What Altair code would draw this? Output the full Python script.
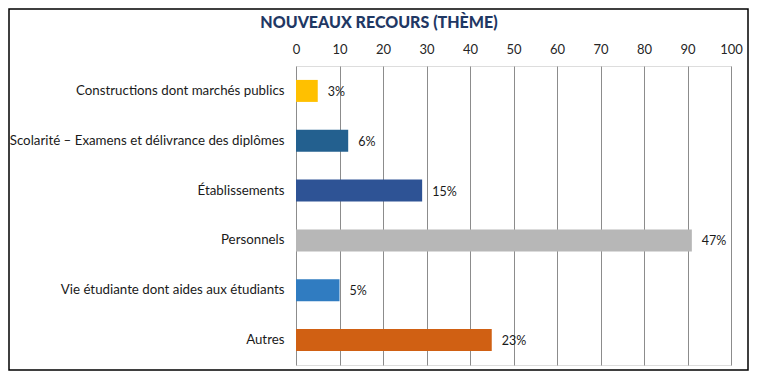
import altair as alt
import pandas as pd

categories = [
    "Constructions dont marchés publics",
    "Scolarité – Examens et délivrance des diplômes",
    "Établissements",
    "Personnels",
    "Vie étudiante dont aides aux étudiants",
    "Autres",
]
counts = [5, 12, 29, 91, 10, 45]
pct_labels = ["3%", "6%", "15%", "47%", "5%", "23%"]
colors = ["#FFC000", "#23608F", "#2E5395", "#B7B7B7", "#307CC1", "#D06013"]
x_ticks = [0, 10, 20, 30, 40, 50, 60, 70, 80, 90, 100]
title_text = "NOUVEAUX RECOURS (THÈME)"

df = pd.DataFrame({"cat": categories, "n": counts, "lab": pct_labels, "col": colors})

FONT = "Lato"

y_enc = alt.Y(
    "cat:N",
    sort=categories,
    scale=alt.Scale(paddingInner=0.55, paddingOuter=0.275),
    axis=alt.Axis(
        title=None, domain=False, ticks=False, labelPadding=12,
        labelFont=FONT, labelFontSize=13.3, labelColor="#1a1a1a", labelLimit=300,
    ),
)
x_enc = alt.X(
    "n:Q",
    scale=alt.Scale(domain=[0, 100], nice=False),
    axis=alt.Axis(
        orient="top", title=None, values=x_ticks, domain=False, ticks=False,
        grid=True, gridColor="#8c8c8c", gridWidth=1, labelPadding=10, labelFlush=False,
        labelFont=FONT, labelFontSize=13, labelColor="#262626",
    ),
)

base = alt.Chart(df)

bars = base.mark_bar(size=22).encode(
    x=x_enc,
    y=y_enc,
    color=alt.Color("col:N", scale=None),
)

labels = base.mark_text(align="left", baseline="middle", dx=10, dy=1, font=FONT, fontSize=12.5, color="#1a1a1a").encode(
    x="n:Q", y=alt.Y("cat:N", sort=categories), text="lab:N"
)

title = alt.Chart(pd.DataFrame({"t": [title_text]})).mark_text(
    font=FONT, fontSize=16, fontWeight=900, color="#1F3864", align="center", baseline="middle"
).encode(x=alt.value(83), y=alt.value(-43), text="t:N")

border = alt.Chart(pd.DataFrame({"a": [0]})).mark_rect(
    fill=None, stroke="#000000", strokeWidth=1.5
).encode(x=alt.value(-287), x2=alt.value(452), y=alt.value(-57), y2=alt.value(304))

chart = alt.layer(bars, labels, title, border).properties(
    width=435,
    height=299,
    autosize=alt.AutoSizeParams(type="none"),
    padding={"left": 288, "top": 58, "right": 18, "bottom": 6},
).configure_view(stroke=None).configure(background="white")

chart.save("out.html", embed_options={"renderer": "svg", "actions": False})
